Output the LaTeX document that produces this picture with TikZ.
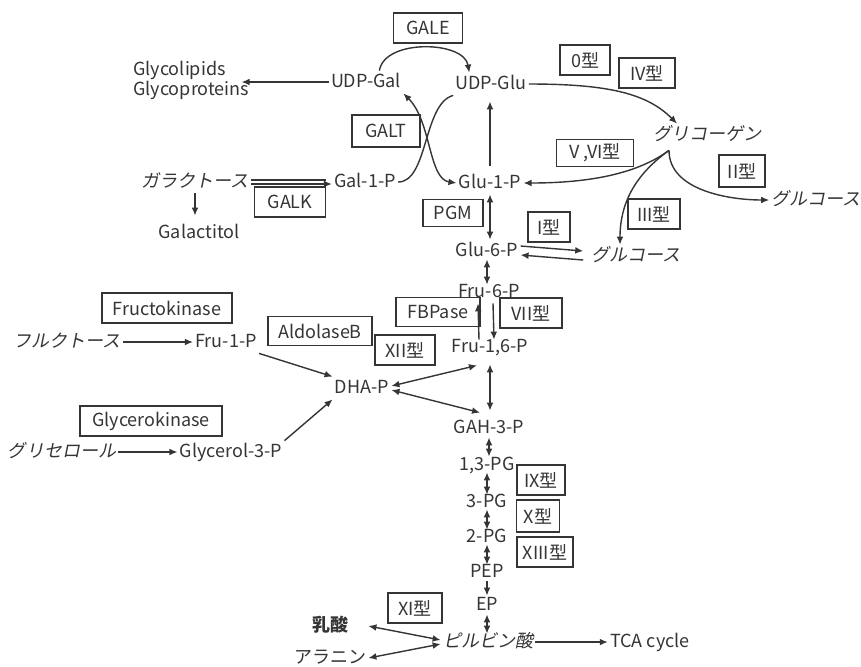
\documentclass[tikz,border=0pt]{standalone}
\usepackage{fontspec}
\setmainfont{Noto Sans CJK JP}
\newfontfamily\jpit[FakeSlant=0.2]{Noto Sans CJK JP}
\usepackage{tikz}
\usetikzlibrary{calc,arrows.meta}
\definecolor{ink}{HTML}{353535}
\tikzstyle{enzyme}=[rectangle, draw=ink, line width=0.7pt, minimum height=15pt, inner sep=1pt, text=ink, font=\fontsize{9}{10}\selectfont, anchor=center]
\tikzstyle{metab}=[inner sep=1pt, text height=7pt, text depth=2pt, text=ink, font=\fontsize{9}{10}\selectfont]
\tikzstyle{sugar}=[metab, font=\fontsize{9}{10}\selectfont\jpit]
\tikzstyle{line}=[draw=ink, line width=0.7pt]

\begin{document}
\begin{tikzpicture}[x=0.5pt, y=-0.5pt, >={Latex[length=4pt,width=3.4pt]}]
	\fill[white] (0,0) rectangle (861,666);
	\useasboundingbox (0,0) rectangle (861,666);

	% metabolites
	\node[metab] (udpgal) at (366,82) {UDP-Gal};
	\node[metab] (udpglu) at (491,84) {UDP-Glu};
	\node[inner sep=1pt, text=ink, font=\fontsize{9}{10}\selectfont, align=left, anchor=west] (glyco) at (131,80) {Glycolipids\\Glycoproteins};
	\node[sugar] (gal) at (195,182) {ガラクトース};
	\node[metab] (gal1p) at (365,182) {Gal-1-P};
	\node[metab] (galtol) at (199,233) {Galactitol};
	\node[metab] (glu1p) at (490,183) {Glu-1-P};
	\node[sugar] (glycogen) at (707,135) {グリコーゲン};
	\node[sugar] (glc1) at (816,200) {グルコース};
	\node[metab] (glu6p) at (487,251) {Glu-6-P};
	\node[sugar] (glc2) at (636,256) {グルコース};
	\node[metab] (fru6p) at (489,292) {Fru-6-P};
	\node[metab] (fru16p) at (490,347) {Fru-1,6-P};
	\node[sugar] (fru) at (67,342) {フルクトース};
	\node[metab] (fru1p) at (226,342) {Fru-1-P};
	\node[metab] (dhap) at (362,388) {DHA-P};
	\node[sugar] (glycerol) at (62,452) {グリセロール};
	\node[metab] (gly3p) at (231,452) {Glycerol-3-P};
	\node[metab] (gah) at (489,428) {GAH-3-P};
	\node[metab] (bpg) at (487,465) {1,3-PG};
	\node[metab] (pg3) at (487,502) {3-PG};
	\node[metab] (pg2) at (487,537) {2-PG};
	\node[metab] (pep) at (487,572) {PEP};
	\node[metab] (ep) at (487,605) {EP};
	\node[sugar] (pyr) at (488,642) {ピルビン酸};
	\node[metab] (tca) at (650,642) {TCA cycle};
	\node[metab, font=\fontsize{9}{10}\selectfont\bfseries] (lac) at (330,626) {乳酸};
	\node[metab] (ala) at (330,658) {アラニン};

	% enzymes and types
	\node[enzyme, minimum width=34.5pt] (gale) at (428,28) {GALE};
	\node[enzyme, minimum width=34pt, minimum height=16pt] (galt) at (386,131) {GALT};
	\node[enzyme, minimum width=35.5pt] (galk) at (290,202) {GALK};
	\node[enzyme, minimum width=30pt, minimum height=13.5pt] (pgm) at (453,213) {PGM};
	\node[enzyme, minimum width=25pt] (type0) at (585,60) {0型};
	\node[enzyme, minimum width=28pt] (type4) at (647,73) {IV型};
	\node[enzyme, minimum width=38.5pt, minimum height=13.5pt] (type56) at (595,153) {V ,VI型};
	\node[enzyme, minimum width=23pt, minimum height=16pt] (type2) at (742,171) {II型};
	\node[enzyme, minimum width=26pt] (type3) at (654,214) {III型};
	\node[enzyme, minimum width=21pt] (type1) at (549,227) {I型};
	\node[enzyme, minimum width=65pt] (fk) at (167,308) {Fructokinase};
	\node[enzyme, minimum width=52pt, minimum height=14.5pt] (aldb) at (320,331) {AldolaseB};
	\node[enzyme, minimum width=30pt] (type12) at (405,350) {XII型};
	\node[enzyme, minimum width=42pt, minimum height=14.5pt] (fbp) at (438,312) {FBPase};
	\node[enzyme, minimum width=31pt] (type7) at (531,313) {VII型};
	\node[enzyme, minimum width=71pt] (gk) at (151,421) {Glycerokinase};
	\node[enzyme, minimum width=24pt] (type9) at (541,480) {IX型};
	\node[enzyme, minimum width=21.5pt, minimum height=16pt] (type10) at (538,516) {X型};
	\node[enzyme, minimum width=28pt] (type13) at (545,552) {XIII型};
	\node[enzyme, minimum width=27pt] (type11) at (415,608) {XI型};

	% galactose
	\draw[line, ->] (udpgal.west) -- ([xshift=-5pt]udpgal.west -| glyco.east);
	\draw[line, ->] ([xshift=-12pt]udpgal.north east) .. controls +(5,-32) and +(-5,-32) .. ([xshift=8pt]udpglu.north west);
	\draw[line] (gal1p.east) .. controls +(30,0) and +(-30,8) .. (udpglu.south west);
	\draw[line, <->] (udpgal.south east) .. controls +(28,28) and +(-28,-4) .. (glu1p.west);
	\draw[line, ->] ([yshift=-1pt]gal.east) -- ([yshift=-1pt]gal1p.west);
	\draw[line] ([yshift=1pt]gal.east) -- ([yshift=1pt,xshift=-3pt]gal1p.west);
	\draw[line, ->, shorten >=3pt] (gal.south) -- (gal.south |- galtol.north);

	% glycogen
	\coordinate (gsrc) at ([xshift=-19pt,yshift=-2pt]glycogen.south);
	\draw[line, ->, shorten <=3pt, shorten >=3pt] (glu1p.north) -- (glu1p.north |- udpglu.south);
	\draw[line, ->] (udpglu.east) .. controls +(80,0) and +(-30,-30) .. ([xshift=-15pt]glycogen.north);
	\draw[line, ->] (gsrc) .. controls +(-30,22) and +(70,0) .. (glu1p.east);
	\draw[line, ->] (gsrc) .. controls +(-35,25) and +(0,-40) .. ([xshift=-8pt]glc2.north);
	\draw[line, ->] (gsrc) .. controls +(0,40) and +(-40,0) .. (glc1.west);
	\draw[line, <->] (glu1p.south) -- (glu1p.south |- glu6p.north);
	\draw[line, ->] ([yshift=2.5pt]glu6p.east) -- ([yshift=2.5pt,xshift=-3pt]glc2.west);
	\draw[line, <-] ([yshift=-2pt]glu6p.east) -- ([yshift=-2pt,xshift=-3pt]glc2.west);

	% glycolysis
	\draw[line, <->] ([yshift=1.5pt]glu6p.south) -- ([yshift=-2pt]glu6p.south |- fru6p.north);
	\draw[line, ->] ([xshift=-5.5pt,yshift=-2pt]fru16p.north) -- ([xshift=-5.5pt]fru6p.south);
	\draw[line, ->] ([xshift=2pt]fru6p.south) -- ([xshift=2pt,yshift=-2pt]fru16p.north);
	\draw[line, <->, shorten <=3pt, shorten >=3pt] (fru16p.south) -- (fru16p.south |- gah.north);
	\draw[line, <->] ([yshift=1pt]dhap.east) -- ([xshift=-6.5pt,yshift=-3.5pt]fru16p.south);
	\draw[line, <->] ([yshift=-1pt]dhap.east) -- ([xshift=-4.5pt,yshift=2pt]gah.north);
	\draw[line, ->] (fru) -- (fru1p);
	\draw[line, ->] (fru1p.south east) -- (dhap.north west);
	\draw[line, ->] (glycerol) -- (gly3p);
	\draw[line, ->] (gly3p.north east) -- (dhap.south west);
	\draw[line, <->] ([yshift=1pt]gah.south) -- ([yshift=-1.5pt]gah.south |- bpg.north);
	\draw[line, <->] ([yshift=2pt]bpg.south) -- ([yshift=-2pt]bpg.south |- pg3.north);
	\draw[line, <->] ([yshift=2pt]pg3.south) -- ([yshift=-2pt]pg3.south |- pg2.north);
	\draw[line, <->] ([yshift=2pt]pg2.south) -- ([yshift=-2pt]pg2.south |- pep.north);
	\draw[line, ->] ([yshift=1pt]pep.south) -- ([yshift=-1pt]pep.south |- ep.north);
	\draw[line, <->] ([yshift=1pt]ep.south) -- ([yshift=-1.5pt]ep.south |- pyr.north);

	% pyruvate
	\draw[line, <->] ([yshift=1pt]pyr.west) -- ([xshift=9pt]lac.east);
	\draw[line, <->] ([yshift=-1pt]pyr.west) -- (ala.east);
	\draw[line, ->] (pyr) -- (tca);
\end{tikzpicture}
\end{document}
